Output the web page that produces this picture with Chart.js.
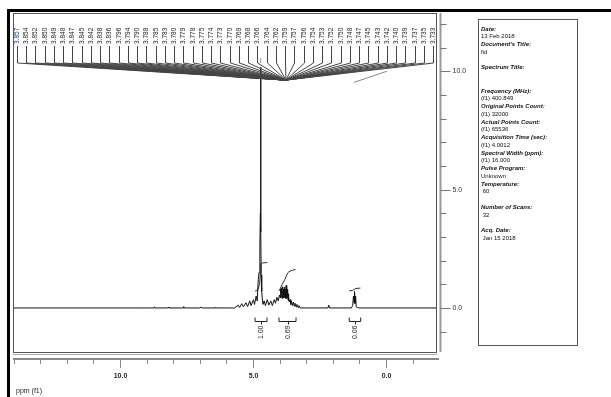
<!DOCTYPE html>
<html>
<head>
<meta charset="utf-8">
<script src="https://cdn.jsdelivr.net/npm/chart.js@4/dist/chart.umd.min.js"></script>
<style>
html, body { margin: 0; padding: 0; background: #fff; overflow: hidden; }
#chart { display: block; }
</style>
</head>
<body>
<canvas id="chart" width="611" height="397"></canvas>
<script>
// spectrum trace (ppm, intensity)
const specPpm = [14.0, 9.2, 8.72, 8.7, 8.68, 8.2, 8.18, 8.16, 7.62, 7.6, 7.58, 7.0, 6.95, 6.9, 6.42, 6.4, 6.38, 5.7,
  5.55, 5.5, 5.42, 5.36, 5.26, 5.2, 5.12, 5.07, 4.98, 4.94, 4.88, 4.84, 4.80, 4.77, 4.74, 4.72, 4.71, 4.70, 4.69, 4.67, 4.64,
  4.62, 4.58, 4.53, 4.46, 4.40, 4.33, 4.27, 4.20, 4.15, 4.10, 4.05, 4.00,
  3.98, 3.97, 3.96, 3.95, 3.94, 3.93, 3.92, 3.91, 3.90, 3.89, 3.88, 3.87, 3.86, 3.85, 3.84, 3.83, 3.82, 3.81, 3.80,
  3.79, 3.78, 3.77, 3.76, 3.75, 3.74, 3.73, 3.72, 3.71, 3.70, 3.69, 3.68, 3.67, 3.66, 3.65, 3.63, 3.60,
  3.58, 3.55, 3.52, 3.48, 3.45, 3.42, 3.38, 3.35, 3.30, 3.27, 3.22, 2.18, 2.15, 2.12,
  1.30, 1.25, 1.22, 1.20, 1.18, 1.16, 1.14, 1.12, 1.08, 1.0, -2.0];
const specInt = [0, 0, 0, 0.05, 0, 0, 0.04, 0, 0, 0.06, 0, 0, 0.04, 0, 0, 0.03, 0, 0,
  0.12, 0.02, 0.18, 0.05, 0.22, 0.06, 0.3, 0.1, 0.35, 0.15, 0.5, 0.3, 1.2, 1.5, 2.6, 4.0, 10.17, 3.2, 1.4, 0.7, 0.3,
  0.15, 0.3, 0.1, 0.35, 0.12, 0.3, 0.1, 0.35, 0.2, 0.45, 0.3, 0.55,
  0.45, 0.8, 0.42, 0.78, 0.5, 0.85, 0.45, 0.7, 0.4, 0.82, 0.5, 0.9, 0.48, 0.8, 0.42, 0.75, 0.5, 0.88, 0.45,
  0.7, 0.4, 0.8, 0.55, 0.95, 0.5, 0.72, 0.4, 0.78, 0.45, 0.65, 0.35, 0.6, 0.3, 0.5, 0.25, 0.35,
  0.15, 0.3, 0.1, 0.25, 0.08, 0.2, 0.05, 0.15, 0.02, 0.1, 0, 0, 0.12, 0,
  0, 0.1, 0.5, 0.2, 0.7, 0.2, 0.5, 0.05, 0.02, 0, 0];

// integral curves
const int1Ppm = [4.92, 4.85, 4.80, 4.75, 4.72, 4.70, 4.65, 4.46];
const int1Val = [0.72, 0.73, 0.8, 1.0, 1.5, 1.85, 1.9, 1.92];
const int2Ppm = [4.02, 3.98, 3.90, 3.80, 3.75, 3.68, 3.60, 3.50, 3.40];
const int2Val = [0.72, 0.8, 1.0, 1.2, 1.35, 1.5, 1.56, 1.6, 1.62];
const int3Ppm = [1.38, 1.25, 1.20, 1.15, 0.96];
const int3Val = [0.72, 0.74, 0.78, 0.82, 0.84];

// integration regions and values
const intFrom = [4.92, 4.02, 1.38];
const intTo = [4.47, 3.38, 0.95];
const intLabels = ['1.00', '0.69', '0.06'];

// stray guide line upper right
const guidePpm = [1.2, -0.04];
const guideVal = [9.53, 10.0];

// peak picking labels
const peakLabels = ['3.857', '3.854', '3.852', '3.850', '3.849', '3.848', '3.847', '3.845', '3.842', '3.838', '3.836',
  '3.796', '3.794', '3.790', '3.788', '3.785', '3.783', '3.780', '3.779', '3.778', '3.775', '3.774', '3.773', '3.770',
  '3.769', '3.768', '3.766', '3.764', '3.762', '3.759', '3.757', '3.756', '3.754', '3.753', '3.752', '3.750', '3.748',
  '3.747', '3.745', '3.743', '3.742', '3.740', '3.739', '3.737', '3.735', '3.733'];

// axis ticks
const xTicks = [14, 13, 12, 11, 10, 9, 8, 7, 6, 5, 4, 3, 2, 1, 0, -1];
const xTickLabels = ['', '', '', '', '10.0', '', '', '', '', '5.0', '', '', '', '', '0.0', ''];
const yTicks = [12, 11, 10, 9, 8, 7, 6, 5, 4, 3, 2, 1, 0, -1];
const yTickLabels = ['', '', '10.0', '', '', '', '', '5.0', '', '', '', '', '0.0', ''];

const infoLines = [
  ['Date:', 1], ['13 Feb 2018', 0], ["Document's Title:", 1], ['fid', 0], ['', 0],
  ['Spectrum Title:', 1], ['', 0], ['', 0],
  ['Frequency (MHz):', 1], ['(f1) 400.849', 0], ['Original Points Count:', 1], ['(f1) 32000', 0],
  ['Actual Points Count:', 1], ['(f1) 65536', 0], ['Acquisition Time (sec):', 1], ['(f1) 4.0012', 0],
  ['Spectral Width (ppm):', 1], ['(f1) 16.000', 0], ['Pulse Program:', 1], ['Unknown', 0],
  ['Temperature:', 1], [' 60', 0], ['', 0], ['Number of Scans:', 1], [' 32', 0], ['', 0],
  ['Acq. Date:', 1], [' Jan 15 2018', 0]
];

function pts(xs, ys) {
  return xs.map((x, i) => ({x: x, y: ys[i]}));
}

const FONT = '"Liberation Sans", Arial, sans-serif';

const decor = {
  id: 'decor',
  beforeDraw(chart) {
    const c = chart.ctx;
    c.save();
    c.fillStyle = '#fff';
    c.fillRect(0, 0, chart.width, chart.height);
    // outer frame
    c.fillStyle = '#000';
    c.fillRect(8, 9, 603, 3);
    c.fillRect(7, 9, 3, 388);
    c.restore();
  },
  afterDraw(chart) {
    const c = chart.ctx;
    const xs = chart.scales.x, ys = chart.scales.y;
    const a = chart.chartArea;
    c.save();

    // plot box
    c.strokeStyle = '#555';
    c.lineWidth = 1;
    c.strokeRect(a.left + 0.5, a.top + 0.5, a.right - a.left - 1, a.bottom - a.top);
    c.strokeStyle = '#aaa';
    c.beginPath();
    c.moveTo(a.left, a.bottom + 2.5); c.lineTo(a.right, a.bottom + 2.5);
    c.stroke();

    // bottom ppm axis
    const axY = a.bottom + 7;
    c.strokeStyle = '#888';
    c.lineWidth = 2;
    c.beginPath();
    c.moveTo(a.left, axY); c.lineTo(a.right + 2, axY);
    c.stroke();
    c.lineWidth = 1;
    c.fillStyle = '#222';
    c.font = 'bold 7px ' + FONT;
    c.textAlign = 'center';
    c.textBaseline = 'middle';
    xTicks.forEach((v, i) => {
      const px = Math.round(xs.getPixelForValue(v)) + 0.5;
      const len = xTickLabels[i] ? 9 : 5;
      c.beginPath();
      c.moveTo(px, axY); c.lineTo(px, axY + len);
      c.stroke();
      if (xTickLabels[i]) c.fillText(xTickLabels[i], px, axY + 17);
    });
    c.textAlign = 'left';
    c.font = '7px ' + FONT;
    c.fillText('ppm (f1)', 16, 391);

    // right intensity axis
    const axX = a.right + 3.5;
    c.strokeStyle = '#999';
    c.lineWidth = 2;
    c.beginPath();
    c.moveTo(axX, a.top); c.lineTo(axX, a.bottom);
    c.stroke();
    c.lineWidth = 1;
    c.strokeStyle = '#777';
    c.font = '7px ' + FONT;
    c.fillStyle = '#333';
    yTicks.forEach((v, i) => {
      const py = Math.round(ys.getPixelForValue(v)) + 0.5;
      const len = yTickLabels[i] ? 10 : 6;
      c.beginPath();
      c.moveTo(axX, py); c.lineTo(axX + len, py);
      c.stroke();
      if (yTickLabels[i]) c.fillText(yTickLabels[i], axX + 12, py);
    });

    // peak labels and fan lines
    const n = peakLabels.length;
    const x0 = 17, x1 = 433;
    const fanY = ys.getPixelForValue(9.63);
    c.font = '6.5px ' + FONT;
    peakLabels.forEach((lab, i) => {
      const lx = Math.round(x0 + i * (x1 - x0) / (n - 1)) + 0.5;
      const px = xs.getPixelForValue(parseFloat(lab));
      c.strokeStyle = '#444';
      c.beginPath();
      c.moveTo(lx, 46); c.lineTo(lx, 63); c.lineTo(px, fanY);
      c.stroke();
      c.save();
      c.translate(lx, 44);
      c.rotate(-Math.PI / 2);
      c.fillStyle = i === 0 ? '#1f3a78' : '#1a1a1a';
      c.textAlign = 'left';
      c.fillText(lab, 0, 0);
      c.restore();
    });

    // integration brackets and values
    c.strokeStyle = '#222';
    c.fillStyle = '#222';
    c.font = '7px ' + FONT;
    intLabels.forEach((lab, i) => {
      const xa = xs.getPixelForValue(intFrom[i]);
      const xb = xs.getPixelForValue(intTo[i]);
      const yt = Math.round(ys.getPixelForValue(-0.38)) + 0.5;
      const yb = Math.round(ys.getPixelForValue(-0.55)) + 0.5;
      const cx = Math.round((xa + xb) / 2) + 0.5;
      c.beginPath();
      c.moveTo(xa, yt); c.lineTo(xa, yb); c.lineTo(xb, yb); c.lineTo(xb, yt);
      c.moveTo(cx, yb); c.lineTo(cx, yb + 3);
      c.stroke();
      c.save();
      c.translate(cx, yb + 4);
      c.rotate(-Math.PI / 2);
      c.textAlign = 'right';
      c.fillText(lab, 0, 0);
      c.restore();
    });

    // info panel
    c.strokeStyle = '#555';
    c.strokeRect(478.5, 19.5, 99, 326);
    c.fillStyle = '#111';
    c.textAlign = 'left';
    infoLines.forEach((ln, i) => {
      if (!ln[0]) return;
      c.font = (ln[1] ? 'italic bold ' : '') + '6px ' + FONT;
      c.fillText(ln[0], 481, 29 + i * 7.75);
    });
    c.restore();
  }
};

new Chart(document.getElementById('chart'), {
  type: 'line',
  data: {
    datasets: [
      {data: pts(specPpm, specInt), borderColor: '#111', borderWidth: 1},
      {data: pts(int1Ppm, int1Val), borderColor: '#333', borderWidth: 1},
      {data: pts(int2Ppm, int2Val), borderColor: '#333', borderWidth: 1},
      {data: pts(int3Ppm, int3Val), borderColor: '#333', borderWidth: 1},
      {data: pts(guidePpm, guideVal), borderColor: '#888', borderWidth: 1},
      {data: [{x: 4.71, y: 10.35}, {x: 4.71, y: 10.55}], borderColor: '#999', borderWidth: 1}
    ]
  },
  options: {
    responsive: false,
    animation: false,
    devicePixelRatio: 1,
    elements: {point: {radius: 0}, line: {tension: 0}},
    layout: {padding: {left: 13, top: 13, right: 174, bottom: 45}},
    scales: {
      x: {type: 'linear', reverse: true, min: -1.92, max: 14.02, display: false},
      y: {type: 'linear', min: -1.86, max: 12.46, display: false}
    },
    plugins: {legend: {display: false}, tooltip: {enabled: false}}
  },
  plugins: [decor]
});
</script>
</body>
</html>
